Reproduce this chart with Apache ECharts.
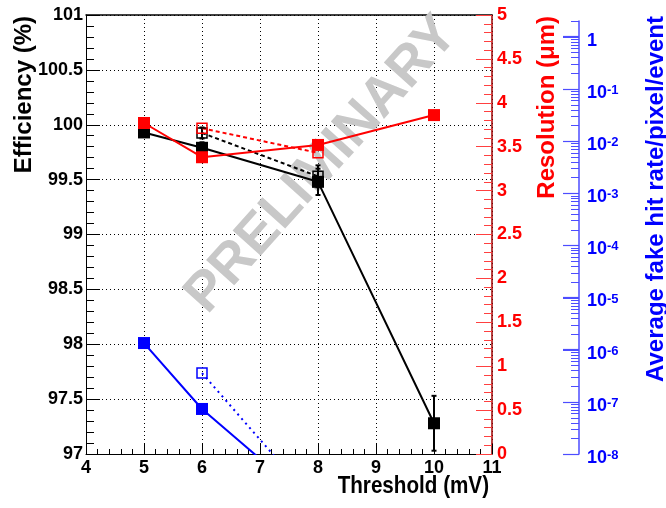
<!DOCTYPE html>
<html><head><meta charset="utf-8">
<script src="https://cdn.jsdelivr.net/npm/echarts@6/dist/echarts.min.js"></script>
<style>html,body{margin:0;padding:0;background:#fff}#c{width:666px;height:508px}</style>
</head><body><div id="c"></div>
<script>
// ---- data ----
const thresholds = [5, 6, 8, 10];
const efficiency = [99.93, 99.79, 99.48, 97.28];
const efficiencyErr = [0.03, 0.05, 0.12, 0.25];
const thresholdsOpen = [6, 8];
const efficiencyOpen = [99.925, 99.53];
const efficiencyOpenErr = [0.05, 0.1];
const resolution = [3.77, 3.38, 3.52, 3.86];
const resolutionOpen = [3.71, 3.43];
const fakeThresholds = [5, 6, 8];
const fakeRate = [1.34e-6, 7.3e-8, 9e-10];
const fakeRateOpen = [3.56e-7, 1e-9];
// axis ranges / tick labels
const xRange = [4, 11];
const effRange = [97, 101];
const resRange = [0, 5];
const fakeRange = [1e-8, 2];
const fakeDecades = [-8, -7, -6, -5, -4, -3, -2, -1, 0];
const fakeMinorMultipliers = [2, 3, 4, 5, 6, 7, 8, 9];
const titles = {
  x: 'Threshold (mV)',
  eff: 'Efficiency (%)',
  res: 'Resolution (\u03bcm)',
  fake: 'Average fake hit rate/pixel/event',
  mark: 'PRELIMINARY'
};

const FONT = '"Liberation Sans", Arial, Helvetica, sans-serif';
const RED = '#ff0000', BLUE = '#0000ff', BLUE_AXIS = '#4d4dff';
const BLUE_OFFSET = 87;
const zip = (xs, ys) => xs.map((x, i) => [x, ys[i]]);
const zip3 = (xs, ys, es) => xs.map((x, i) => [x, ys[i], es[i]]);

function errRender(color) {
  return function (params, api) {
    const x = api.value(0), y = api.value(1), e = api.value(2);
    const a = api.coord([x, y + e]), b = api.coord([x, y - e]);
    const w = 2.5;
    const st = { stroke: color, lineWidth: 2 };
    return { type: 'group', children: [
      { type: 'line', shape: { x1: a[0], y1: a[1], x2: b[0], y2: b[1] }, style: st },
      { type: 'line', shape: { x1: a[0] - w, y1: a[1], x2: a[0] + w, y2: a[1] }, style: st },
      { type: 'line', shape: { x1: b[0] - w, y1: b[1], x2: b[0] + w, y2: b[1] }, style: st }
    ]};
  };
}

const labelBase = { fontFamily: FONT, fontWeight: 'bold', fontSize: 18 };
const dotted = { color: '#000', width: 1, type: [1, 3] };

const chart = echarts.init(document.getElementById('c'), null, { renderer: 'canvas' });
chart.setOption({
  animation: false,
  backgroundColor: '#fff',
  grid: [
    { left: 86, top: 15, width: 406, height: 439, outerBoundsMode: 'none', containLabel: false },
    { left: 86, top: 21, width: 406, height: 433, outerBoundsMode: 'none', containLabel: false }
  ],
  xAxis: [
    { type: 'value', gridIndex: 0, min: xRange[0], max: xRange[1], interval: 1,
      axisLine: { show: true, onZero: false, lineStyle: { color: '#000', width: 1 } },
      axisTick: { show: true, inside: true, length: 10, lineStyle: { color: '#000', width: 1 } },
      minorTick: { show: true, splitNumber: 5, length: 5, lineStyle: { color: '#000', width: 1 } },
      splitLine: { show: true, lineStyle: dotted },
      axisLabel: Object.assign({ color: '#000', margin: 5 }, labelBase) },
    { type: 'value', gridIndex: 0, position: 'top', min: xRange[0], max: xRange[1],
      axisLine: { show: true, onZero: false, lineStyle: { color: '#000', width: 1.5 } },
      axisTick: { show: false }, axisLabel: { show: false }, splitLine: { show: false } },
    { type: 'value', gridIndex: 1, min: xRange[0], max: xRange[1], show: false }
  ],
  yAxis: [
    { type: 'value', gridIndex: 0, position: 'left', min: effRange[0], max: effRange[1], interval: 0.5,
      axisLine: { show: true, onZero: false, lineStyle: { color: '#000', width: 1 } },
      axisTick: { show: true, inside: true, length: 14, lineStyle: { color: '#000', width: 1 } },
      minorTick: { show: true, splitNumber: 5, length: 8, lineStyle: { color: '#000', width: 1 } },
      splitLine: { show: true, lineStyle: dotted },
      axisLabel: Object.assign({ color: '#000', margin: 3 }, labelBase) },
    { type: 'value', gridIndex: 0, position: 'right', min: resRange[0], max: resRange[1], interval: 0.5,
      axisLine: { show: true, onZero: false, lineStyle: { color: '#a00000', width: 1.5 } },
      axisTick: { show: true, inside: true, length: 16, lineStyle: { color: '#ff4040', width: 1 } },
      minorTick: { show: true, splitNumber: 5, length: 8, lineStyle: { color: '#ff4040', width: 1 } },
      splitLine: { show: false },
      axisLabel: Object.assign({ color: RED, margin: 5 }, labelBase) },
    { type: 'log', logBase: 10, gridIndex: 1, position: 'right', offset: BLUE_OFFSET,
      min: fakeRange[0], max: fakeRange[1], splitNumber: 10,
      axisLine: { show: true, onZero: false, lineStyle: { color: BLUE_AXIS, width: 1.5 } },
      axisTick: { show: true, inside: true, length: 16, lineStyle: { color: BLUE_AXIS, width: 1.2 } },
      minorTick: { show: false },
      splitLine: { show: false },
      axisLabel: {
        margin: 8, showMaxLabel: false,
        formatter: function (v) {
          const l = Math.log10(v), e = Math.round(l);
          if (Math.abs(l - e) > 1e-6) return '';
          if (e === 0) return '{b|1}';
          return '{b|10}{s|' + e + '}';
        },
        rich: {
          b: { fontFamily: FONT, fontWeight: 'bold', fontSize: 18, lineHeight: 18, color: BLUE, padding: [8, 0, 0, 0] },
          s: { fontFamily: FONT, fontWeight: 'bold', fontSize: 13, lineHeight: 13, color: BLUE, verticalAlign: 'top', padding: [4, 0, 0, 0] }
        }
      } },
    // hidden linear axis in decades (log10 units) spanning the same range, used for the log minor ticks
    { type: 'value', gridIndex: 1, position: 'right', min: Math.log10(fakeRange[0]), max: Math.log10(fakeRange[1]), show: false }
  ],
  graphic: [
    { id: 'mark', type: 'text', x: 322, y: 165, rotation: 48 * Math.PI / 180, z: 1,
      style: { text: titles.mark, font: 'bold 55px ' + FONT, fill: '#c8c8c8', align: 'center', verticalAlign: 'middle', textAlign: 'center', textVerticalAlign: 'middle' } },
    { id: 'tEff', type: 'text', x: 24, y: 16, rotation: Math.PI / 2,
      style: { text: titles.eff, font: 'bold 24px ' + FONT, fill: '#000', align: 'right', verticalAlign: 'middle', textAlign: 'right', textVerticalAlign: 'middle' } },
    { id: 'tRes', type: 'text', x: 547, y: 16, rotation: Math.PI / 2,
      style: { text: titles.res, font: 'bold 24px ' + FONT, fill: RED, align: 'right', verticalAlign: 'middle', textAlign: 'right', textVerticalAlign: 'middle' } },
    { id: 'tFake', type: 'text', x: 656, y: 16, rotation: Math.PI / 2,
      style: { text: titles.fake, font: 'bold 24px ' + FONT, fill: BLUE, align: 'right', verticalAlign: 'middle', textAlign: 'right', textVerticalAlign: 'middle' } },
    { id: 'tX', type: 'text', x: 489, y: 486, scaleX: 0.86,
      style: { text: titles.x, font: 'bold 24px ' + FONT, fill: '#000', align: 'right', verticalAlign: 'middle', textAlign: 'right', textVerticalAlign: 'middle' } }
  ],
  series: [
    { name: 'Efficiency', type: 'line', xAxisIndex: 0, yAxisIndex: 0, data: zip(thresholds, efficiency),
      symbol: 'rect', symbolSize: 12, z: 5,
      lineStyle: { color: '#000', width: 2 }, itemStyle: { color: '#000' } },
    { name: 'Efficiency (open)', type: 'line', xAxisIndex: 0, yAxisIndex: 0, data: zip(thresholdsOpen, efficiencyOpen),
      symbol: 'rect', symbolSize: 10, z: 4,
      lineStyle: { color: '#000', width: 2, type: [4, 3] }, itemStyle: { color: 'rgba(0,0,0,0)', borderColor: '#000', borderWidth: 1.5 } },
    { name: 'Efficiency err', type: 'custom', xAxisIndex: 0, yAxisIndex: 0, z: 4,
      data: zip3(thresholds, efficiency, efficiencyErr), renderItem: errRender('#000') },
    { name: 'Efficiency open err', type: 'custom', xAxisIndex: 0, yAxisIndex: 0, z: 4,
      data: zip3(thresholdsOpen, efficiencyOpen, efficiencyOpenErr), renderItem: errRender('#000') },
    { name: 'Resolution', type: 'line', xAxisIndex: 0, yAxisIndex: 1, data: zip(thresholds, resolution),
      symbol: 'rect', symbolSize: 12, z: 6,
      lineStyle: { color: RED, width: 2 }, itemStyle: { color: RED } },
    { name: 'Resolution (open)', type: 'line', xAxisIndex: 0, yAxisIndex: 1, data: zip(thresholdsOpen, resolutionOpen),
      symbol: 'rect', symbolSize: 10, z: 4,
      lineStyle: { color: RED, width: 2, type: [4, 3] }, itemStyle: { color: 'rgba(0,0,0,0)', borderColor: RED, borderWidth: 1.5 } },
    { name: 'Fake rate', type: 'line', xAxisIndex: 2, yAxisIndex: 2, data: zip(fakeThresholds, fakeRate),
      symbol: 'rect', symbolSize: 12, z: 5, clip: true,
      lineStyle: { color: BLUE, width: 2 }, itemStyle: { color: BLUE } },
    { name: 'Fake rate (open)', type: 'line', xAxisIndex: 2, yAxisIndex: 2, data: zip(thresholdsOpen, fakeRateOpen),
      symbol: 'rect', symbolSize: 10, z: 4, clip: true,
      lineStyle: { color: BLUE, width: 2, type: [2, 4] }, itemStyle: { color: 'rgba(0,0,0,0)', borderColor: BLUE, borderWidth: 1.5 } }
  ]
});

// log-axis ticks (major at decades, minor at 2..9) placed through the decade axis
(function () {
  const toY = v => chart.convertToPixel({ yAxisIndex: 3 }, Math.log10(v));
  let axisX = chart.convertToPixel({ xAxisIndex: 0 }, xRange[1]);
  if (Array.isArray(axisX)) axisX = axisX[0];
  axisX = Number(axisX) + BLUE_OFFSET;
  if (!isFinite(axisX)) axisX = 492 + BLUE_OFFSET;
  const els = [];
  fakeDecades.forEach(d => {
    const base = Math.pow(10, d);
    const vals = [[base, 16]].concat(fakeMinorMultipliers.map(m => [m * base, 8]));
    vals.forEach(([v, len]) => {
      if (v > fakeRange[1]) return;
      let y = toY(v);
      if (Array.isArray(y)) y = y[1];
      y = Number(y);
      if (!isFinite(y)) return;
      const yy = Math.round(y) + 0.5;
      els.push({ id: 'tk' + els.length, type: 'line', z: 50, silent: true,
        shape: { x1: axisX - len, y1: yy, x2: axisX, y2: yy },
        style: { stroke: BLUE_AXIS, lineWidth: 1 } });
    });
  });
  chart.setOption({ graphic: els });
})();
</script></body></html>
